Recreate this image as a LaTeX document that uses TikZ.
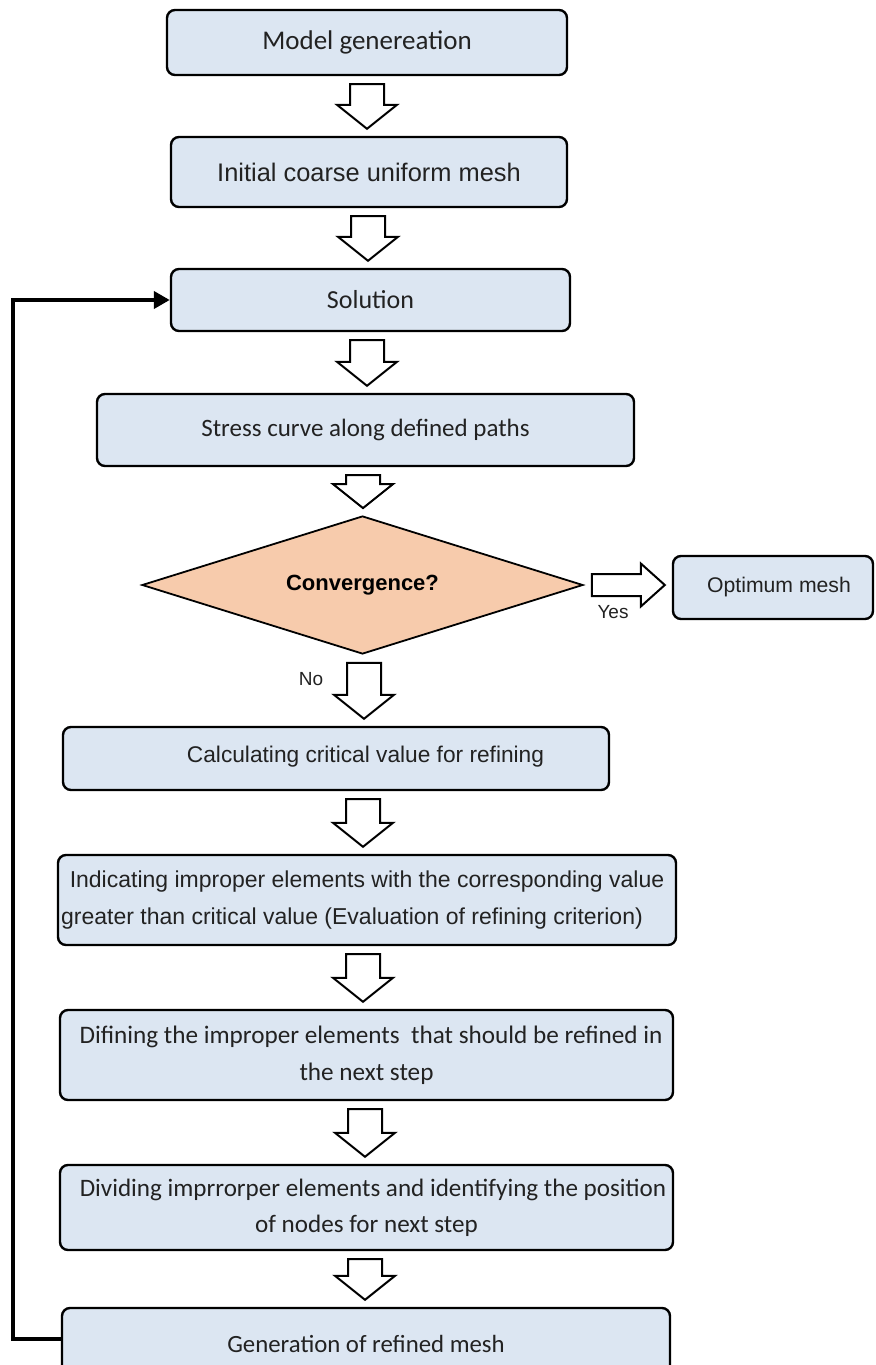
\documentclass[tikz,border=0pt]{standalone}
\usepackage{fontspec}
\setmainfont{Carlito}
\newfontfamily\arial{Liberation Sans}
\usetikzlibrary{shapes.geometric,arrows.meta,calc}
\definecolor{boxfill}{HTML}{DCE6F2}
\definecolor{decfill}{HTML}{F7CBAC}
\definecolor{txt}{HTML}{222222}
\tikzset{
  box/.style={draw=black, line width=1.2pt, rounded corners=4pt, fill=boxfill,
    inner sep=0pt, align=center, text=txt},
  boxtext/.style={inner sep=0pt, align=center, text=txt},
  decision/.style={draw=black, line width=0.9pt, fill=decfill, shape=diamond,
    aspect=3.2, inner sep=0pt, text=black},
  blkarrow/.style={draw=black, line width=1pt, fill=white, line join=miter},
  feedback/.style={draw=black, line width=2pt, -{Triangle[length=8pt,width=8.5pt]}},
  lbl/.style={inner sep=0pt, text=txt, font=\arial\fontsize{9.5}{11}\selectfont}
}
% vertical block arrow: x position (px), from node, to node
\newcommand\blk[3]{%
  \draw[blkarrow] let \p1=(#2.south), \p2=(#3.north), \p3=(#1,0) in
   (\x3-8.5pt,\y1-4pt) -- (\x3+8.5pt,\y1-4pt) -- (\x3+8.5pt,\y2+15.5pt)
   -- (\x3+15pt,\y2+15.5pt) -- (\x3,\y2+3.5pt) -- (\x3-15pt,\y2+15.5pt)
   -- (\x3-8.5pt,\y2+15.5pt) -- cycle;}
\begin{document}
\begin{tikzpicture}[x=0.5pt,y=-0.5pt]
\useasboundingbox (0,0) rectangle (875,1365);
\node[box, minimum width=200pt, minimum height=32.5pt,
  font=\fontsize{13.5}{15}\selectfont] (model) at (367,42.5) {Model genereation};
\node[box, minimum width=198pt, minimum height=35pt,
  font=\arial\fontsize{12.7}{14}\selectfont] (init) at (369,172) {Initial coarse uniform mesh};
\node[box, minimum width=199.5pt, minimum height=31pt,
  font=\fontsize{13}{15}\selectfont] (sol) at (370.5,300) {Solution};
\node[box, minimum width=268.5pt, minimum height=36pt,
  font=\fontsize{12.5}{14}\selectfont] (stress) at (365.5,430) {Stress curve along defined paths};
\node[decision, minimum width=220.5pt, minimum height=69pt,
  font=\arial\bfseries\fontsize{11}{13}\selectfont] (conv) at (362.5,585) {Convergence?};
\node[box, minimum width=100pt, minimum height=31.5pt,
  font=\arial\fontsize{10.6}{12}\selectfont] (opt) at (773,587.5) {\hspace*{6pt}Optimum mesh};
\node[box, minimum width=273pt, minimum height=31.5pt] (calc) at (336,758.5) {};
\node[boxtext, font=\arial\fontsize{11.35}{13}\selectfont] (calctext) at (365.5,757)
  {Calculating critical value for refining};
\node[box, minimum width=309pt, minimum height=45pt,
  font=\arial\fontsize{11.5}{18.5}\selectfont] (ind) at (367,900)
  {Indicating improper elements with the corresponding value\\greater than critical value (Evaluation of refining criterion)\hspace*{15pt}};
\node[box, minimum width=306.5pt, minimum height=45pt,
  font=\fontsize{12.6}{18.5}\selectfont] (dif) at (366.5,1055)
  {\hspace*{4.5pt}Difining the improper elements\ \ that should be refined in\\the next step};
\node[box, minimum width=306.5pt, minimum height=42.5pt,
  font=\fontsize{12.55}{18}\selectfont] (div) at (366.5,1207.5)
  {\hspace*{6.5pt}Dividing imprrorper elements and identifying the position\\of nodes for next step};
\node[box, minimum width=304pt, minimum height=36pt,
  font=\fontsize{12.4}{14}\selectfont] (gen) at (366,1344) {Generation of refined mesh};
\node[lbl] (yes) at (613,612) {Yes};
\node[lbl] (no) at (311,679) {No};
% block arrows
\blk{367}{model}{init}
\blk{368}{init}{sol}
\blk{367}{sol}{stress}
\blk{363}{stress}{conv}
\blk{364}{conv}{calc}
\blk{363}{calc}{ind}
\blk{363}{ind}{dif}
\blk{365}{dif}{div}
\blk{365}{div}{gen}
% yes arrow
\draw[blkarrow] let \p1=(conv.east), \p2=(opt.west) in
  (\x1+4pt,\y1-5.5pt) -- (\x2-15.5pt,\y1-5.5pt) -- (\x2-15.5pt,\y1-10.75pt)
  -- (\x2-3.5pt,\y1) -- (\x2-15.5pt,\y1+10.75pt) -- (\x2-15.5pt,\y1+5.5pt)
  -- (\x1+4pt,\y1+5.5pt) -- cycle;
% feedback loop
\coordinate (fbcorner) at (13,1339);
\draw[feedback] (gen.west |- fbcorner) -- (fbcorner) |- (sol.west);
\end{tikzpicture}
\end{document}
